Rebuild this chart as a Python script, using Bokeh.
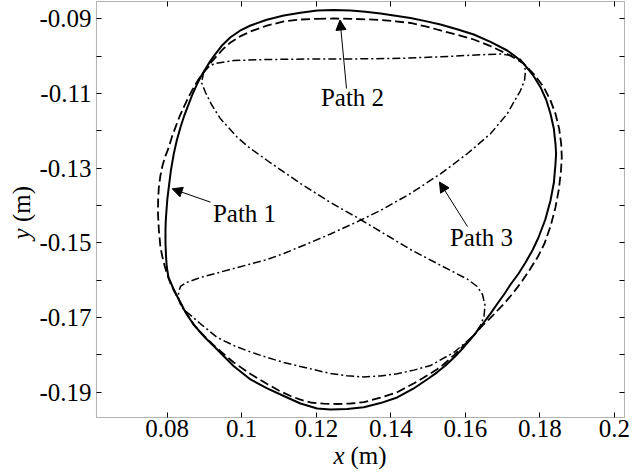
import math

from bokeh.plotting import figure
from bokeh.models import (Range1d, LinearAxis, FixedTicker, NumeralTickFormatter,
                          Label, Arrow, NormalHead, BoxAnnotation)
from bokeh.embed import file_html
from bokeh.resources import INLINE

# ---- data (metres) ---------------------------------------------------------
# Path 1: solid closed loop
path1_x = [0.12024, 0.12470, 0.12918, 0.13320, 0.13722, 0.14527, 0.14930, 0.15332,
           0.15775, 0.16225, 0.16674, 0.17122, 0.17352, 0.17567, 0.17808, 0.18015,
           0.18170, 0.18283, 0.18372, 0.18417, 0.18433, 0.18417, 0.18374, 0.18283,
           0.18144, 0.17961, 0.17800, 0.17613, 0.17419, 0.17210, 0.17041, 0.16861,
           0.16682, 0.16494, 0.16231, 0.15957, 0.15716, 0.15466, 0.15241, 0.15010,
           0.14602, 0.14170, 0.13722, 0.13274, 0.12826, 0.12381, 0.12024, 0.11576,
           0.11128, 0.10683, 0.10235, 0.09779, 0.09341, 0.09014, 0.08706, 0.08491,
           0.08311, 0.08164, 0.08035, 0.07987, 0.07968, 0.07954, 0.07954, 0.07962,
           0.07981, 0.08005, 0.08043, 0.08099, 0.08177, 0.08258, 0.08357, 0.08461,
           0.08579, 0.08687, 0.08805, 0.08912, 0.09028, 0.09156, 0.09296, 0.09484,
           0.09698, 0.09953, 0.10235, 0.10672, 0.11128, 0.11576]
path1_y = [-0.08778, -0.08767, -0.08778, -0.08810, -0.08858, -0.08979, -0.09062, -0.09153,
           -0.09278, -0.09420, -0.09616, -0.09849, -0.10015, -0.10205, -0.10499, -0.10831,
           -0.11174, -0.11544, -0.11937, -0.12347, -0.12614, -0.12882, -0.13383, -0.13865,
           -0.14374, -0.14855, -0.15198, -0.15525, -0.15833, -0.16114, -0.16374, -0.16622,
           -0.16880, -0.17131, -0.17469, -0.17793, -0.18050, -0.18283, -0.18465, -0.18630,
           -0.18904, -0.19139, -0.19289, -0.19399, -0.19450, -0.19460, -0.19434, -0.19300,
           -0.19099, -0.18893, -0.18657, -0.18296, -0.17854, -0.17533, -0.17185, -0.16858,
           -0.16516, -0.16221, -0.15926, -0.15632, -0.15337, -0.15003, -0.14668, -0.14400,
           -0.14133, -0.13819, -0.13509, -0.13062, -0.12614, -0.12253, -0.11902, -0.11584,
           -0.11276, -0.11000, -0.10740, -0.10534, -0.10339, -0.10133, -0.09937, -0.09701,
           -0.09493, -0.09319, -0.09179, -0.09027, -0.08912, -0.08837]

# Path 2: dashed closed loop
path2_x = [0.12024, 0.12470, 0.12918, 0.13320, 0.13722, 0.14125, 0.14527, 0.14930,
           0.15332, 0.15775, 0.16225, 0.16674, 0.17122, 0.17349, 0.17567, 0.17848,
           0.18103, 0.18278, 0.18417, 0.18514, 0.18570, 0.18586, 0.18565, 0.18509,
           0.18417, 0.18289, 0.18122, 0.17948, 0.17747, 0.17527, 0.17290, 0.17081,
           0.16861, 0.16679, 0.16486, 0.16225, 0.15957, 0.15689, 0.15413, 0.15241,
           0.15064, 0.14624, 0.14170, 0.13722, 0.13274, 0.12918, 0.12561, 0.12201,
           0.11844, 0.11576, 0.11308, 0.10994, 0.10683, 0.10235, 0.09787, 0.09336,
           0.08893, 0.08695, 0.08518, 0.08311, 0.08193, 0.08089, 0.08003, 0.07928,
           0.07869, 0.07820, 0.07777, 0.07753, 0.07756, 0.07775, 0.07815, 0.07874,
           0.07952, 0.08043, 0.08126, 0.08223, 0.08327, 0.08445, 0.08574, 0.08714,
           0.08842, 0.08982, 0.09154, 0.09341, 0.09510, 0.09698, 0.09956, 0.10235,
           0.10675, 0.11128, 0.11576]
path2_y = [-0.09000, -0.08992, -0.09000, -0.09013, -0.09032, -0.09067, -0.09112, -0.09201,
           -0.09313, -0.09426, -0.09554, -0.09731, -0.09942, -0.10066, -0.10205, -0.10497,
           -0.10831, -0.11174, -0.11544, -0.11937, -0.12347, -0.12700, -0.13062, -0.13557,
           -0.14044, -0.14540, -0.15016, -0.15364, -0.15685, -0.16015, -0.16328, -0.16577,
           -0.16810, -0.17003, -0.17185, -0.17474, -0.17747, -0.18010, -0.18256, -0.18384,
           -0.18497, -0.18759, -0.18997, -0.19145, -0.19265, -0.19300, -0.19313, -0.19305,
           -0.19273, -0.19198, -0.19099, -0.18952, -0.18778, -0.18510, -0.18202, -0.17822,
           -0.17399, -0.17158, -0.16890, -0.16516, -0.16301, -0.16087, -0.15846, -0.15605,
           -0.15364, -0.15123, -0.14668, -0.14213, -0.13865, -0.13517, -0.13217, -0.12928,
           -0.12676, -0.12438, -0.12165, -0.11902, -0.11629, -0.11367, -0.11094, -0.10831,
           -0.10620, -0.10430, -0.10197, -0.09983, -0.09800, -0.09635, -0.09471, -0.09340,
           -0.09182, -0.09072, -0.09019]

# Path 3: dash-dot crossed loop
path3_x = [0.08982, 0.09108, 0.09269, 0.09787, 0.10683, 0.11844, 0.12918, 0.14259,
           0.15332, 0.16271, 0.16942, 0.17264, 0.17478, 0.17567, 0.17613, 0.17586,
           0.17478, 0.17122, 0.16673, 0.16048, 0.15332, 0.14527, 0.13722, 0.13052,
           0.12381, 0.11844, 0.11128, 0.10683, 0.09787, 0.08893, 0.08518, 0.08357,
           0.08303, 0.08311, 0.08384, 0.08893, 0.09341, 0.09787, 0.10235, 0.10683,
           0.11128, 0.11576, 0.12381, 0.12826, 0.13274, 0.13722, 0.14170, 0.14618,
           0.15064, 0.15689, 0.16225, 0.16405, 0.16499, 0.16526, 0.16459, 0.16317,
           0.16048, 0.15421, 0.14527, 0.13902, 0.13186, 0.12381, 0.11576, 0.10683,
           0.10189, 0.09878, 0.09430, 0.09188, 0.09028, 0.08920]
path3_y = [-0.10430, -0.10291, -0.10197, -0.10116, -0.10090, -0.10076, -0.10076, -0.10058,
           -0.10017, -0.09969, -0.09942, -0.09983, -0.10090, -0.10205, -0.10384, -0.10652,
           -0.10920, -0.11544, -0.12079, -0.12614, -0.13150, -0.13677, -0.14133, -0.14454,
           -0.14762, -0.14989, -0.15284, -0.15445, -0.15685, -0.15926, -0.16060, -0.16167,
           -0.16328, -0.16516, -0.16730, -0.17166, -0.17533, -0.17747, -0.17921, -0.18068,
           -0.18202, -0.18309, -0.18497, -0.18558, -0.18590, -0.18561, -0.18505, -0.18406,
           -0.18283, -0.17934, -0.17479, -0.17211, -0.16971, -0.16676, -0.16382, -0.16167,
           -0.15967, -0.15645, -0.15177, -0.14802, -0.14374, -0.13918, -0.13410, -0.12794,
           -0.12438, -0.12170, -0.11677, -0.11295, -0.10973, -0.10706]

# annotation text and arrows (tail -> head)
label_text = ["Path 1", "Path 2", "Path 3"]
label_x = [0.10074, 0.12971, 0.16432]
label_y = [-0.14200, -0.11100, -0.14860]
arrow_x0 = [0.09162, 0.12810, 0.16056]
arrow_y0 = [-0.13910, -0.10866, -0.14561]
arrow_x1 = [0.08134, 0.12636, 0.15305]
arrow_y1 = [-0.13552, -0.09032, -0.13370]

# axes
x_ticks = [0.08, 0.10, 0.12, 0.14, 0.16, 0.18, 0.20]
x_tick_labels = ["0.08", "0.1", "0.12", "0.14", "0.16", "0.18", "0.2"]
y_ticks = [-0.19, -0.17, -0.15, -0.13, -0.11, -0.09]
y_tick_labels = ["-0.19", "-0.17", "-0.15", "-0.13", "-0.11", "-0.09"]
y_minor_ticks = [-0.18, -0.16, -0.14, -0.12, -0.10]

FONT = "Liberation Serif"
SIZE = "25px"

# axes box (data limits of the framed region)
BOX_LEFT, BOX_RIGHT = 0.06103, 0.20268
BOX_BOTTOM, BOX_TOP = -0.19675, -0.08537

# the plot frame spans the whole canvas; the axes sit on the box edges
p = figure(width=632, height=474, output_backend="svg", toolbar_location=None,
           x_range=Range1d(0.03528, 0.20483), y_range=Range1d(-0.21201, -0.08510),
           x_axis_location=None, y_axis_location=None, min_border=0,
           outline_line_color=None, background_fill_color="white",
           border_fill_color="white")
p.grid.visible = False


def add_axis(side, loc, bounds, ticks, minor, labels, show_labels, standoff, formatter):
    ax = LinearAxis(fixed_location=loc, bounds=bounds,
                    ticker=FixedTicker(ticks=ticks, minor_ticks=minor),
                    formatter=formatter, axis_label=None)
    ax.axis_line_color = None
    ax.major_tick_in = 5
    ax.major_tick_out = 0
    ax.minor_tick_in = 5
    ax.minor_tick_out = 0
    ax.major_tick_line_color = "black"
    ax.minor_tick_line_color = "black"
    ax.major_tick_line_width = 1
    ax.minor_tick_line_width = 1
    if show_labels:
        ax.major_label_overrides = dict(zip(ticks, labels))
        ax.major_label_text_font = FONT
        ax.major_label_text_font_size = SIZE
        ax.major_label_text_color = "black"
        ax.major_label_standoff = standoff
    else:
        ax.major_label_overrides = {t: "" for t in ticks}
        ax.major_label_text_font_size = "0px"
        ax.major_label_standoff = 0
    p.add_layout(ax, side)


add_axis("below", BOX_BOTTOM, (BOX_LEFT, BOX_RIGHT), x_ticks, [], x_tick_labels, True, 2,
         NumeralTickFormatter(format="0.[00]"))
add_axis("above", BOX_TOP, (BOX_LEFT, BOX_RIGHT), x_ticks, [], x_tick_labels, False, 0,
         NumeralTickFormatter(format="0.[00]"))
add_axis("left", BOX_LEFT, (BOX_BOTTOM, BOX_TOP), y_ticks, y_minor_ticks, y_tick_labels,
         True, 5, NumeralTickFormatter(format="0.00"))
add_axis("right", BOX_RIGHT, (BOX_BOTTOM, BOX_TOP), y_ticks, y_minor_ticks, y_tick_labels,
         False, 0, NumeralTickFormatter(format="0.00"))

# the three paths, each closed back onto its first point
p.line(path1_x + path1_x[:1], path1_y + path1_y[:1], line_color="black", line_width=2.0)
p.line(path2_x + path2_x[:1], path2_y + path2_y[:1], line_color="black", line_width=1.8,
       line_dash="9 4")
p.line(path3_x + path3_x[:1], path3_y + path3_y[:1], line_color="black", line_width=1.5,
       line_dash="8 3 2 3")

# box outline
p.add_layout(BoxAnnotation(left=BOX_LEFT, right=BOX_RIGHT, bottom=BOX_BOTTOM, top=BOX_TOP,
                           fill_color=None, fill_alpha=0, line_color="black", line_width=1))

for x0, y0, x1, y1 in zip(arrow_x0, arrow_y0, arrow_x1, arrow_y1):
    p.add_layout(Arrow(x_start=x0, y_start=y0, x_end=x1, y_end=y1,
                       line_color="black", line_width=1,
                       end=NormalHead(size=10, fill_color="black", line_color="black",
                                      line_width=1)))

for t, x, y in zip(label_text, label_x, label_y):
    p.add_layout(Label(x=x, y=y, text=t, text_align="center", text_baseline="alphabetic",
                       text_font=FONT, text_font_size=SIZE, text_color="black"))

# axis titles: italic variable name followed by upright unit (screen px, origin bottom-left)
p.add_layout(Label(x=333, y=19, x_units="screen", y_units="screen", text="x",
                   text_font=FONT, text_font_size=SIZE, text_font_style="italic",
                   text_align="left", text_baseline="alphabetic", text_color="black"))
p.add_layout(Label(x=350, y=19, x_units="screen", y_units="screen", text="(m)",
                   text_font=FONT, text_font_size=SIZE,
                   text_align="left", text_baseline="alphabetic", text_color="black"))
p.add_layout(Label(x=21, y=235, x_units="screen", y_units="screen", text="y",
                   angle=math.pi / 2, text_font=FONT, text_font_size=SIZE,
                   text_font_style="italic", text_align="left", text_baseline="alphabetic",
                   text_color="black"))
p.add_layout(Label(x=21, y=252.5, x_units="screen", y_units="screen", text="(m)",
                   angle=math.pi / 2, text_font=FONT, text_font_size=SIZE,
                   text_align="left", text_baseline="alphabetic", text_color="black"))

open("out.html", "w").write(file_html(p, INLINE))
